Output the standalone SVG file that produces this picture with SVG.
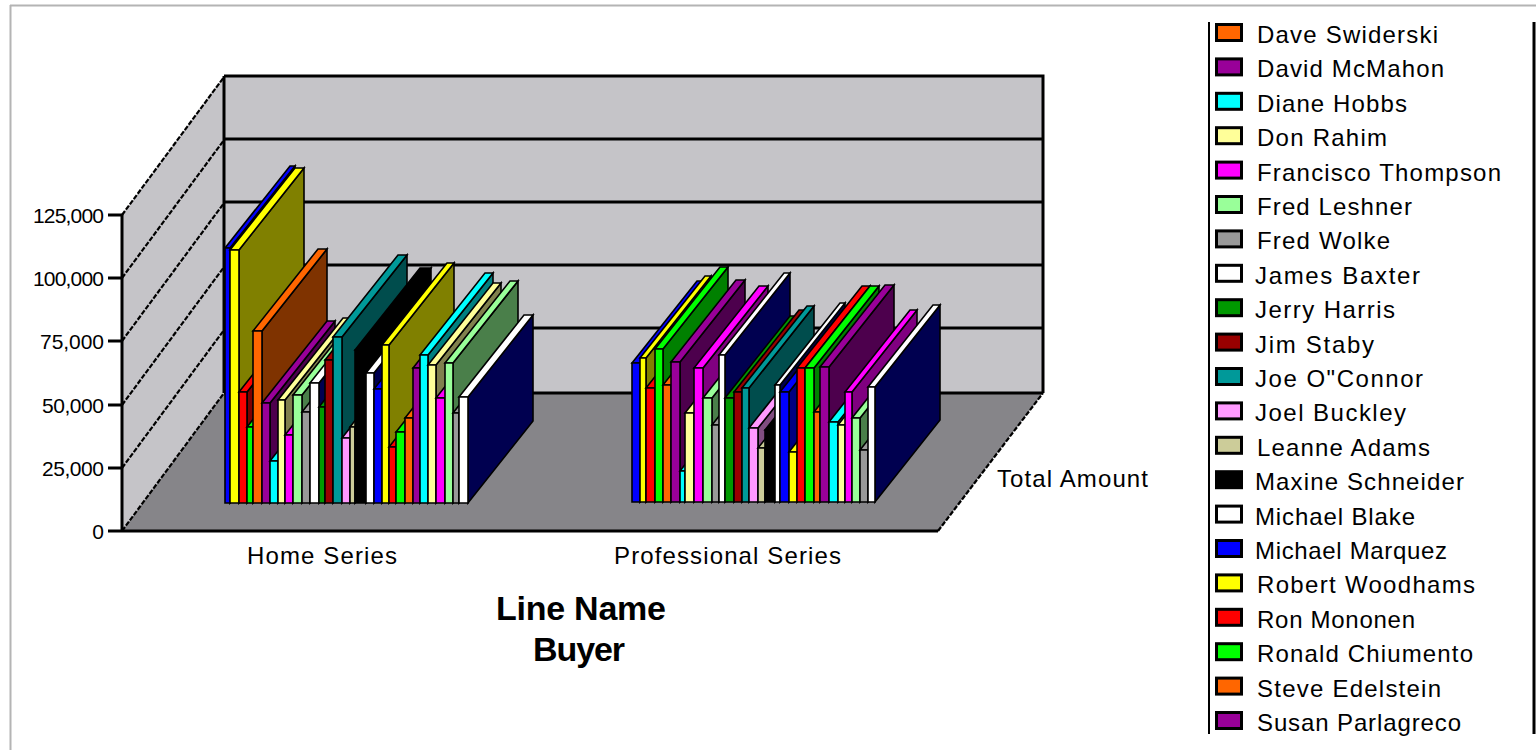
<svg xmlns="http://www.w3.org/2000/svg" width="1536" height="750" viewBox="0 0 1536 750">
<style>
  .wall{fill:#c5c4c8}
  .floor{fill:#868589}
  .edge{stroke:#000;stroke-width:3;fill:none}
  .dash{stroke:#000;stroke-width:2.2;fill:none;stroke-dasharray:5 1.6}
  .frame{stroke:#b4b4b4;stroke-width:2;fill:none}
  .bar path{stroke:#000;stroke-width:1.6;stroke-linejoin:miter}
  .lbl{font-family:"Liberation Sans",Arial,sans-serif;fill:#000}
  .ax{font-size:21px;text-anchor:end}
  .cat{font-size:24px}
  .ttl{font-size:34px;font-weight:bold;text-anchor:middle}
  .leg{font-size:24px}
  .sw{stroke:#000;stroke-width:3}
  .k-blue .f,.k-blue .t{fill:#0000ff} .k-blue .s{fill:#000080}
  .k-yel .f,.k-yel .t{fill:#ffff00} .k-yel .s{fill:#808000}
  .k-red .f,.k-red .t{fill:#ff0000} .k-red .s{fill:#800000}
  .k-grn .f,.k-grn .t{fill:#00ff00} .k-grn .s{fill:#008000}
  .k-org .f,.k-org .t{fill:#ff6600} .k-org .s{fill:#7f3300}
  .k-pur .f,.k-pur .t{fill:#990099} .k-pur .s{fill:#4d004d}
  .k-cyn .f,.k-cyn .t{fill:#00ffff} .k-cyn .s{fill:#008080}
  .k-lyl .f,.k-lyl .t{fill:#ffff99} .k-lyl .s{fill:#80804d}
  .k-mag .f,.k-mag .t{fill:#ff00ff} .k-mag .s{fill:#800080}
  .k-lgr .f,.k-lgr .t{fill:#99ff99} .k-lgr .s{fill:#4a7f4a}
  .k-gry .f,.k-gry .t{fill:#999999} .k-gry .s{fill:#4d4d4d}
  .k-wht .f,.k-wht .t{fill:#ffffff} .k-wht .s{fill:#000050}
  .k-dgr .f,.k-dgr .t{fill:#009900} .k-dgr .s{fill:#004d00}
  .k-drd .f,.k-drd .t{fill:#990000} .k-drd .s{fill:#4d0000}
  .k-tel .f,.k-tel .t{fill:#009999} .k-tel .s{fill:#004d4d}
  .k-pnk .f,.k-pnk .t{fill:#ff99ff} .k-pnk .s{fill:#804d80}
  .k-bge .f,.k-bge .t{fill:#cccc99} .k-bge .s{fill:#66664d}
  .k-blk .f,.k-blk .t,.k-blk .s{fill:#000000}
</style>
<rect width="1536" height="750" fill="#ffffff"/>

<!-- outer frame -->
<path class="frame" d="M10 5.5H1536M10.5 5V750"/>

<!-- plot area: walls and floor -->
<g id="plot-area">
  <rect class="wall" x="224" y="76" width="819" height="317"/>
  <polygon class="wall" points="122,215 224,76 224,393 122,531"/>
  <polygon class="floor" points="122,531 224,393 1043,393 938,531"/>
  <path class="edge" d="M224 76H1043V393M224 139H1043M224 202H1043M224 265H1043M224 328H1043M224 393H1043M224 76V393"/>
  <path class="dash" d="M122 215L224 77M122 278L224 140M122 341L224 203M122 405L224 267M122 468L224 330M122 531L224 393M938 531L1043 393"/>
</g>

<!-- Home Series bars -->
<g id="home-series">
  <g class="bar k-blue" transform="translate(225 503)"><path class="s" d="M5-255l65-82v255l-65 82z"/><path class="t" d="M0-255l65-82h5l-65 82z"/><path class="f" d="M0 0V-255H5V0z"/></g>
  <g class="bar k-yel" transform="translate(230 503)"><path class="s" d="M9-253l65-82v253l-65 82z"/><path class="t" d="M0-253l65-82h9l-65 82z"/><path class="f" d="M0 0V-253H9V0z"/></g>
  <g class="bar k-red" transform="translate(239 503)"><path class="s" d="M8-111l65-82v111l-65 82z"/><path class="t" d="M0-111l65-82h8l-65 82z"/><path class="f" d="M0 0V-111H8V0z"/></g>
  <g class="bar k-grn" transform="translate(247 503)"><path class="s" d="M6-76l65-82v76l-65 82z"/><path class="t" d="M0-76l65-82h6l-65 82z"/><path class="f" d="M0 0V-76H6V0z"/></g>
  <g class="bar k-org" transform="translate(253 503)"><path class="s" d="M9-172l65-82v172l-65 82z"/><path class="t" d="M0-172l65-82h9l-65 82z"/><path class="f" d="M0 0V-172H9V0z"/></g>
  <g class="bar k-pur" transform="translate(262 503)"><path class="s" d="M8-100l65-82v100l-65 82z"/><path class="t" d="M0-100l65-82h8l-65 82z"/><path class="f" d="M0 0V-100H8V0z"/></g>
  <g class="bar k-cyn" transform="translate(270 503)"><path class="s" d="M8-42l65-82v42l-65 82z"/><path class="t" d="M0-42l65-82h8l-65 82z"/><path class="f" d="M0 0V-42H8V0z"/></g>
  <g class="bar k-lyl" transform="translate(278 503)"><path class="s" d="M7-103l65-82v103l-65 82z"/><path class="t" d="M0-103l65-82h7l-65 82z"/><path class="f" d="M0 0V-103H7V0z"/></g>
  <g class="bar k-mag" transform="translate(285 503)"><path class="s" d="M8-68l65-82v68l-65 82z"/><path class="t" d="M0-68l65-82h8l-65 82z"/><path class="f" d="M0 0V-68H8V0z"/></g>
  <g class="bar k-lgr" transform="translate(293 503)"><path class="s" d="M9-108l65-82v108l-65 82z"/><path class="t" d="M0-108l65-82h9l-65 82z"/><path class="f" d="M0 0V-108H9V0z"/></g>
  <g class="bar k-gry" transform="translate(302 503)"><path class="s" d="M8-91l65-82v91l-65 82z"/><path class="t" d="M0-91l65-82h8l-65 82z"/><path class="f" d="M0 0V-91H8V0z"/></g>
  <g class="bar k-wht" transform="translate(310 503)"><path class="s" d="M9-120l65-82v120l-65 82z"/><path class="t" d="M0-120l65-82h9l-65 82z"/><path class="f" d="M0 0V-120H9V0z"/></g>
  <g class="bar k-dgr" transform="translate(319 503)"><path class="s" d="M6-96l65-82v96l-65 82z"/><path class="t" d="M0-96l65-82h6l-65 82z"/><path class="f" d="M0 0V-96H6V0z"/></g>
  <g class="bar k-drd" transform="translate(325 503)"><path class="s" d="M8-143l65-82v143l-65 82z"/><path class="t" d="M0-143l65-82h8l-65 82z"/><path class="f" d="M0 0V-143H8V0z"/></g>
  <g class="bar k-tel" transform="translate(333 503)"><path class="s" d="M9-166l65-82v166l-65 82z"/><path class="t" d="M0-166l65-82h9l-65 82z"/><path class="f" d="M0 0V-166H9V0z"/></g>
  <g class="bar k-pnk" transform="translate(342 503)"><path class="s" d="M8-65l65-82v65l-65 82z"/><path class="t" d="M0-65l65-82h8l-65 82z"/><path class="f" d="M0 0V-65H8V0z"/></g>
  <g class="bar k-bge" transform="translate(350 503)"><path class="s" d="M5-76l65-82v76l-65 82z"/><path class="t" d="M0-76l65-82h5l-65 82z"/><path class="f" d="M0 0V-76H5V0z"/></g>
  <g class="bar k-blk" transform="translate(355 503)"><path class="s" d="M11-153l65-82v153l-65 82z"/><path class="t" d="M0-153l65-82h11l-65 82z"/><path class="f" d="M0 0V-153H11V0z"/></g>
  <g class="bar k-wht" transform="translate(366 503)"><path class="s" d="M8-130l65-82v130l-65 82z"/><path class="t" d="M0-130l65-82h8l-65 82z"/><path class="f" d="M0 0V-130H8V0z"/></g>
  <g class="bar k-blue" transform="translate(374 503)"><path class="s" d="M8-114l65-82v114l-65 82z"/><path class="t" d="M0-114l65-82h8l-65 82z"/><path class="f" d="M0 0V-114H8V0z"/></g>
  <g class="bar k-yel" transform="translate(382 503)"><path class="s" d="M7-158l65-82v158l-65 82z"/><path class="t" d="M0-158l65-82h7l-65 82z"/><path class="f" d="M0 0V-158H7V0z"/></g>
  <g class="bar k-red" transform="translate(389 503)"><path class="s" d="M7-56l65-82v56l-65 82z"/><path class="t" d="M0-56l65-82h7l-65 82z"/><path class="f" d="M0 0V-56H7V0z"/></g>
  <g class="bar k-grn" transform="translate(396 503)"><path class="s" d="M9-71l65-82v71l-65 82z"/><path class="t" d="M0-71l65-82h9l-65 82z"/><path class="f" d="M0 0V-71H9V0z"/></g>
  <g class="bar k-org" transform="translate(405 503)"><path class="s" d="M8-85l65-82v85l-65 82z"/><path class="t" d="M0-85l65-82h8l-65 82z"/><path class="f" d="M0 0V-85H8V0z"/></g>
  <g class="bar k-pur" transform="translate(413 503)"><path class="s" d="M7-135l65-82v135l-65 82z"/><path class="t" d="M0-135l65-82h7l-65 82z"/><path class="f" d="M0 0V-135H7V0z"/></g>
  <g class="bar k-cyn" transform="translate(420 503)"><path class="s" d="M8-148l65-82v148l-65 82z"/><path class="t" d="M0-148l65-82h8l-65 82z"/><path class="f" d="M0 0V-148H8V0z"/></g>
  <g class="bar k-lyl" transform="translate(428 503)"><path class="s" d="M8-138l65-82v138l-65 82z"/><path class="t" d="M0-138l65-82h8l-65 82z"/><path class="f" d="M0 0V-138H8V0z"/></g>
  <g class="bar k-mag" transform="translate(436 503)"><path class="s" d="M9-105l65-82v105l-65 82z"/><path class="t" d="M0-105l65-82h9l-65 82z"/><path class="f" d="M0 0V-105H9V0z"/></g>
  <g class="bar k-lgr" transform="translate(445 503)"><path class="s" d="M8-140l65-82v140l-65 82z"/><path class="t" d="M0-140l65-82h8l-65 82z"/><path class="f" d="M0 0V-140H8V0z"/></g>
  <g class="bar k-gry" transform="translate(453 503)"><path class="s" d="M6-90l65-82v90l-65 82z"/><path class="t" d="M0-90l65-82h6l-65 82z"/><path class="f" d="M0 0V-90H6V0z"/></g>
  <g class="bar k-wht" transform="translate(459 503)"><path class="s" d="M9-106l65-82v106l-65 82z"/><path class="t" d="M0-106l65-82h9l-65 82z"/><path class="f" d="M0 0V-106H9V0z"/></g>
</g>

<!-- Professional Series bars -->
<g id="professional-series">
  <g class="bar k-blue" transform="translate(632 502)"><path class="s" d="M8-139l65-82v139l-65 82z"/><path class="t" d="M0-139l65-82h8l-65 82z"/><path class="f" d="M0 0V-139H8V0z"/></g>
  <g class="bar k-yel" transform="translate(640 502)"><path class="s" d="M6-144l65-82v144l-65 82z"/><path class="t" d="M0-144l65-82h6l-65 82z"/><path class="f" d="M0 0V-144H6V0z"/></g>
  <g class="bar k-red" transform="translate(646 502)"><path class="s" d="M9-114l65-82v114l-65 82z"/><path class="t" d="M0-114l65-82h9l-65 82z"/><path class="f" d="M0 0V-114H9V0z"/></g>
  <g class="bar k-grn" transform="translate(655 502)"><path class="s" d="M8-153l65-82v153l-65 82z"/><path class="t" d="M0-153l65-82h8l-65 82z"/><path class="f" d="M0 0V-153H8V0z"/></g>
  <g class="bar k-org" transform="translate(663 502)"><path class="s" d="M8-117l65-82v117l-65 82z"/><path class="t" d="M0-117l65-82h8l-65 82z"/><path class="f" d="M0 0V-117H8V0z"/></g>
  <g class="bar k-pur" transform="translate(671 502)"><path class="s" d="M9-140l65-82v140l-65 82z"/><path class="t" d="M0-140l65-82h9l-65 82z"/><path class="f" d="M0 0V-140H9V0z"/></g>
  <g class="bar k-cyn" transform="translate(680 502)"><path class="s" d="M5-31l65-82v31l-65 82z"/><path class="t" d="M0-31l65-82h5l-65 82z"/><path class="f" d="M0 0V-31H5V0z"/></g>
  <g class="bar k-lyl" transform="translate(685 502)"><path class="s" d="M9-89l65-82v89l-65 82z"/><path class="t" d="M0-89l65-82h9l-65 82z"/><path class="f" d="M0 0V-89H9V0z"/></g>
  <g class="bar k-mag" transform="translate(694 502)"><path class="s" d="M9-134l65-82v134l-65 82z"/><path class="t" d="M0-134l65-82h9l-65 82z"/><path class="f" d="M0 0V-134H9V0z"/></g>
  <g class="bar k-lgr" transform="translate(703 502)"><path class="s" d="M9-104l65-82v104l-65 82z"/><path class="t" d="M0-104l65-82h9l-65 82z"/><path class="f" d="M0 0V-104H9V0z"/></g>
  <g class="bar k-gry" transform="translate(712 502)"><path class="s" d="M7-77l65-82v77l-65 82z"/><path class="t" d="M0-77l65-82h7l-65 82z"/><path class="f" d="M0 0V-77H7V0z"/></g>
  <g class="bar k-wht" transform="translate(719 502)"><path class="s" d="M6-147l65-82v147l-65 82z"/><path class="t" d="M0-147l65-82h6l-65 82z"/><path class="f" d="M0 0V-147H6V0z"/></g>
  <g class="bar k-dgr" transform="translate(725 502)"><path class="s" d="M9-104l65-82v104l-65 82z"/><path class="t" d="M0-104l65-82h9l-65 82z"/><path class="f" d="M0 0V-104H9V0z"/></g>
  <g class="bar k-drd" transform="translate(734 502)"><path class="s" d="M8-110l65-82v110l-65 82z"/><path class="t" d="M0-110l65-82h8l-65 82z"/><path class="f" d="M0 0V-110H8V0z"/></g>
  <g class="bar k-tel" transform="translate(742 502)"><path class="s" d="M7-114l65-82v114l-65 82z"/><path class="t" d="M0-114l65-82h7l-65 82z"/><path class="f" d="M0 0V-114H7V0z"/></g>
  <g class="bar k-pnk" transform="translate(749 502)"><path class="s" d="M9-74l65-82v74l-65 82z"/><path class="t" d="M0-74l65-82h9l-65 82z"/><path class="f" d="M0 0V-74H9V0z"/></g>
  <g class="bar k-bge" transform="translate(758 502)"><path class="s" d="M7-54l65-82v54l-65 82z"/><path class="t" d="M0-54l65-82h7l-65 82z"/><path class="f" d="M0 0V-54H7V0z"/></g>
  <g class="bar k-blk" transform="translate(765 502)"><path class="s" d="M10-72l65-82v72l-65 82z"/><path class="t" d="M0-72l65-82h10l-65 82z"/><path class="f" d="M0 0V-72H10V0z"/></g>
  <g class="bar k-wht" transform="translate(775 502)"><path class="s" d="M5-117l65-82v117l-65 82z"/><path class="t" d="M0-117l65-82h5l-65 82z"/><path class="f" d="M0 0V-117H5V0z"/></g>
  <g class="bar k-blue" transform="translate(780 502)"><path class="s" d="M9-110l65-82v110l-65 82z"/><path class="t" d="M0-110l65-82h9l-65 82z"/><path class="f" d="M0 0V-110H9V0z"/></g>
  <g class="bar k-yel" transform="translate(789 502)"><path class="s" d="M8-50l65-82v50l-65 82z"/><path class="t" d="M0-50l65-82h8l-65 82z"/><path class="f" d="M0 0V-50H8V0z"/></g>
  <g class="bar k-red" transform="translate(797 502)"><path class="s" d="M8-134l65-82v134l-65 82z"/><path class="t" d="M0-134l65-82h8l-65 82z"/><path class="f" d="M0 0V-134H8V0z"/></g>
  <g class="bar k-grn" transform="translate(805 502)"><path class="s" d="M9-134l65-82v134l-65 82z"/><path class="t" d="M0-134l65-82h9l-65 82z"/><path class="f" d="M0 0V-134H9V0z"/></g>
  <g class="bar k-org" transform="translate(814 502)"><path class="s" d="M6-90l65-82v90l-65 82z"/><path class="t" d="M0-90l65-82h6l-65 82z"/><path class="f" d="M0 0V-90H6V0z"/></g>
  <g class="bar k-pur" transform="translate(820 502)"><path class="s" d="M9-135l65-82v135l-65 82z"/><path class="t" d="M0-135l65-82h9l-65 82z"/><path class="f" d="M0 0V-135H9V0z"/></g>
  <g class="bar k-cyn" transform="translate(829 502)"><path class="s" d="M9-80l65-82v80l-65 82z"/><path class="t" d="M0-80l65-82h9l-65 82z"/><path class="f" d="M0 0V-80H9V0z"/></g>
  <g class="bar k-lyl" transform="translate(838 502)"><path class="s" d="M7-77l65-82v77l-65 82z"/><path class="t" d="M0-77l65-82h7l-65 82z"/><path class="f" d="M0 0V-77H7V0z"/></g>
  <g class="bar k-mag" transform="translate(845 502)"><path class="s" d="M7-110l65-82v110l-65 82z"/><path class="t" d="M0-110l65-82h7l-65 82z"/><path class="f" d="M0 0V-110H7V0z"/></g>
  <g class="bar k-lgr" transform="translate(852 502)"><path class="s" d="M8-84l65-82v84l-65 82z"/><path class="t" d="M0-84l65-82h8l-65 82z"/><path class="f" d="M0 0V-84H8V0z"/></g>
  <g class="bar k-gry" transform="translate(860 502)"><path class="s" d="M8-52l65-82v52l-65 82z"/><path class="t" d="M0-52l65-82h8l-65 82z"/><path class="f" d="M0 0V-52H8V0z"/></g>
  <g class="bar k-wht" transform="translate(868 502)"><path class="s" d="M7-115l65-82v115l-65 82z"/><path class="t" d="M0-115l65-82h7l-65 82z"/><path class="f" d="M0 0V-115H7V0z"/></g>
</g>

<!-- value axis, front edge and ticks -->
<g id="value-axis">
  <path class="edge" d="M122 214V531H938M108 215H122M108 278H122M108 341H122M108 405H122M108 468H122M108 531H122"/>
  <text class="lbl ax" x="104" y="223" textLength="71">125,000</text>
  <text class="lbl ax" x="104" y="286" textLength="71">100,000</text>
  <text class="lbl ax" x="104" y="349" textLength="64">75,000</text>
  <text class="lbl ax" x="104" y="413" textLength="62">50,000</text>
  <text class="lbl ax" x="104" y="476" textLength="62">25,000</text>
  <text class="lbl ax" x="104" y="539">0</text>
</g>

<!-- axis titles -->
<g id="axis-titles">
  <text class="lbl cat" x="247" y="564" textLength="150">Home Series</text>
  <text class="lbl cat" x="614" y="564" textLength="227">Professional Series</text>
  <text class="lbl cat" x="997" y="487" textLength="151">Total Amount</text>
  <text class="lbl ttl" x="581" y="620" textLength="170">Line Name</text>
  <text class="lbl ttl" x="579" y="661" textLength="92">Buyer</text>
</g>

<!-- legend -->
<g id="legend">
  <path d="M1209 22V734" stroke="#000" stroke-width="2"/>
  <path d="M1534 22V734" stroke="#000" stroke-width="3"/>
  <g id="leg-0"><rect class="sw" x="1216.5" y="24.5" width="25" height="16" fill="#ff6600"/><text class="lbl leg" x="1257" y="43" textLength="181">Dave Swiderski</text></g>
  <g id="leg-1"><rect class="sw" x="1216.5" y="58.9" width="25" height="16" fill="#990099"/><text class="lbl leg" x="1257" y="77.4" textLength="187">David McMahon</text></g>
  <g id="leg-2"><rect class="sw" x="1216.5" y="93.3" width="25" height="16" fill="#00ffff"/><text class="lbl leg" x="1257" y="111.8" textLength="150">Diane Hobbs</text></g>
  <g id="leg-3"><rect class="sw" x="1216.5" y="127.7" width="25" height="16" fill="#ffff99"/><text class="lbl leg" x="1257" y="146.2" textLength="130">Don Rahim</text></g>
  <g id="leg-4"><rect class="sw" x="1216.5" y="162.1" width="25" height="16" fill="#ff00ff"/><text class="lbl leg" x="1257" y="180.6" textLength="244">Francisco Thompson</text></g>
  <g id="leg-5"><rect class="sw" x="1216.5" y="196.5" width="25" height="16" fill="#99ff99"/><text class="lbl leg" x="1257" y="215" textLength="155">Fred Leshner</text></g>
  <g id="leg-6"><rect class="sw" x="1216.5" y="230.9" width="25" height="16" fill="#999999"/><text class="lbl leg" x="1257" y="249.4" textLength="133">Fred Wolke</text></g>
  <g id="leg-7"><rect class="sw" x="1216.5" y="265.3" width="25" height="16" fill="#ffffff"/><text class="lbl leg" x="1255" y="283.8" textLength="165">James Baxter</text></g>
  <g id="leg-8"><rect class="sw" x="1216.5" y="299.7" width="25" height="16" fill="#009900"/><text class="lbl leg" x="1255" y="318.2" textLength="140">Jerry Harris</text></g>
  <g id="leg-9"><rect class="sw" x="1216.5" y="334.1" width="25" height="16" fill="#990000"/><text class="lbl leg" x="1255" y="352.6" textLength="119">Jim Staby</text></g>
  <g id="leg-10"><rect class="sw" x="1216.5" y="368.5" width="25" height="16" fill="#009999"/><text class="lbl leg" x="1255" y="387" textLength="168">Joe O&quot;Connor</text></g>
  <g id="leg-11"><rect class="sw" x="1216.5" y="402.9" width="25" height="16" fill="#ff99ff"/><text class="lbl leg" x="1255" y="421.4" textLength="151">Joel Buckley</text></g>
  <g id="leg-12"><rect class="sw" x="1216.5" y="437.3" width="25" height="16" fill="#cccc99"/><text class="lbl leg" x="1257" y="455.8" textLength="173">Leanne Adams</text></g>
  <g id="leg-13"><rect class="sw" x="1216.5" y="471.7" width="25" height="16" fill="#000000"/><text class="lbl leg" x="1255" y="490.2" textLength="209">Maxine Schneider</text></g>
  <g id="leg-14"><rect class="sw" x="1216.5" y="506.1" width="25" height="16" fill="#ffffff"/><text class="lbl leg" x="1255" y="524.6" textLength="160">Michael Blake</text></g>
  <g id="leg-15"><rect class="sw" x="1216.5" y="540.5" width="25" height="16" fill="#0000ff"/><text class="lbl leg" x="1255" y="559" textLength="192">Michael Marquez</text></g>
  <g id="leg-16"><rect class="sw" x="1216.5" y="574.9" width="25" height="16" fill="#ffff00"/><text class="lbl leg" x="1257" y="593.4" textLength="218">Robert Woodhams</text></g>
  <g id="leg-17"><rect class="sw" x="1216.5" y="609.3" width="25" height="16" fill="#ff0000"/><text class="lbl leg" x="1257" y="627.8" textLength="158">Ron Mononen</text></g>
  <g id="leg-18"><rect class="sw" x="1216.5" y="643.7" width="25" height="16" fill="#00ff00"/><text class="lbl leg" x="1257" y="662.2" textLength="216">Ronald Chiumento</text></g>
  <g id="leg-19"><rect class="sw" x="1216.5" y="678.1" width="25" height="16" fill="#ff6600"/><text class="lbl leg" x="1257" y="696.6" textLength="184">Steve Edelstein</text></g>
  <g id="leg-20"><rect class="sw" x="1216.5" y="712.5" width="25" height="16" fill="#990099"/><text class="lbl leg" x="1257" y="731" textLength="204">Susan Parlagreco</text></g>
</g>
</svg>
